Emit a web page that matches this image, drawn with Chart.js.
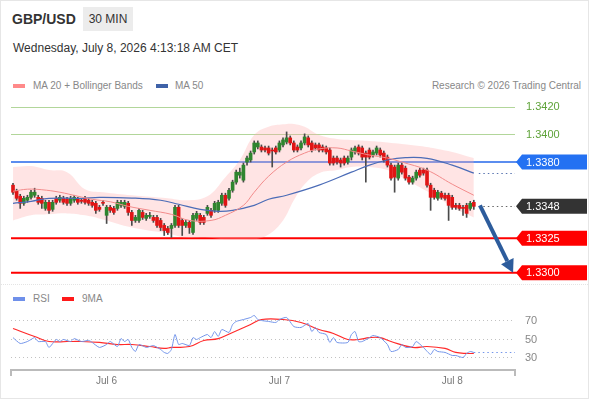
<!DOCTYPE html>
<html>
<head>
<meta charset="utf-8">
<title>GBP/USD 30 MIN</title>
<script src="https://cdn.jsdelivr.net/npm/chart.js@4.4.1/dist/chart.umd.min.js"></script>
<style>
  body { margin: 0; background: #fff; font-family: "Liberation Sans", Arial, sans-serif; }
  #wrap { position: relative; width: 590px; height: 400px; overflow: hidden; background: #fff; }
  #frame { position: absolute; left: 0; top: 0; width: 589px; height: 399px; box-sizing: border-box; border: 1px solid #e6e6e6; pointer-events: none; }
  #sep { position: absolute; left: 1px; top: 284px; width: 587px; height: 0; border-top: 1px dotted #e4e4e4; }
  .t { position: absolute; white-space: nowrap; }
  #title { left: 12px; top: 10px; font-size: 14px; line-height: 18px; font-weight: bold; color: #333; }
  #tf { left: 83px; top: 7px; width: 50px; height: 24px; line-height: 24px; text-align: center; background: #ececec; font-size: 12px; color: #333; }
  #date { left: 13px; top: 40px; font-size: 12px; line-height: 16px; color: #333; }
  .lg { font-size: 10px; line-height: 14px; color: #888; }
  .sw { position: absolute; width: 12px; height: 4px; }
  canvas { position: absolute; left: 0; }
</style>
</head>
<body>
<div id="wrap">
  <div class="t" id="title">GBP/USD</div>
  <div class="t" id="tf">30 MIN</div>
  <div class="t" id="date">Wednesday, July 8, 2026 4:13:18 AM CET</div>

  <div class="sw" style="left:13px; top:84px; background:#ff8a8a;"></div>
  <div class="t lg" style="left:33px; top:79px;">MA 20 + Bollinger Bands</div>
  <div class="sw" style="left:156px; top:84px; background:#3f62a8;"></div>
  <div class="t lg" style="left:175px; top:79px;">MA 50</div>
  <div class="t lg" style="right:9px; top:79px;">Research © 2026 Trading Central</div>

  <div id="sep"></div>
  <div class="sw" style="left:13px; top:297px; background:#6f90ea;"></div>
  <div class="t lg" style="left:33px; top:292px;">RSI</div>
  <div class="sw" style="left:62px; top:297px; background:#ff1a1a;"></div>
  <div class="t lg" style="left:82px; top:292px;">9MA</div>

  <canvas id="main" width="590" height="195" style="top:95px;"></canvas>
  <canvas id="rsi" width="590" height="93" style="top:305px;"></canvas>
  <div id="frame"></div>
</div>

<script>
// 30-minute candles, oldest first
const opens = [
  1.33633, 1.33589, 1.33553, 1.33502, 1.33524, 1.33545, 1.33560, 1.33545, 1.33538, 1.33465,
  1.33509, 1.33458, 1.33538, 1.33524, 1.33538, 1.33531, 1.33502, 1.33524, 1.33531, 1.33524,
  1.33538, 1.33524, 1.33509, 1.33502, 1.33473, 1.33509, 1.33415, 1.33473, 1.33465, 1.33465,
  1.33487, 1.33480, 1.33502, 1.33436, 1.33378, 1.33378, 1.33436, 1.33393, 1.33407, 1.33400,
  1.33400, 1.33378, 1.33342, 1.33320, 1.33320, 1.33342, 1.33473, 1.33378, 1.33342, 1.33364,
  1.33291, 1.33393, 1.33415, 1.33400, 1.33429, 1.33451, 1.33451, 1.33451, 1.33502, 1.33560,
  1.33538, 1.33596, 1.33655, 1.33705, 1.33669, 1.33800, 1.33815, 1.33873, 1.33909, 1.33909,
  1.33902, 1.33902, 1.33887, 1.33902, 1.33887, 1.33924, 1.33945, 1.33975, 1.33938, 1.33909,
  1.33902, 1.33938, 1.33975, 1.33938, 1.33924, 1.33924, 1.33909, 1.33902, 1.33887, 1.33829,
  1.33829, 1.33815, 1.33829, 1.33800, 1.33836, 1.33873, 1.33909, 1.33902, 1.33865, 1.33887,
  1.33851, 1.33865, 1.33887, 1.33865, 1.33836, 1.33778, 1.33764, 1.33684, 1.33778, 1.33756,
  1.33691, 1.33655, 1.33684, 1.33742, 1.33742, 1.33742, 1.33633, 1.33596, 1.33538, 1.33575,
  1.33560, 1.33560, 1.33545, 1.33487, 1.33487, 1.33473, 1.33487, 1.33465, 1.33509
];
const highs = [
  1.33647, 1.33604, 1.33567, 1.33553, 1.33560, 1.33596, 1.33611, 1.33560, 1.33553, 1.33524,
  1.33524, 1.33524, 1.33553, 1.33560, 1.33553, 1.33545, 1.33553, 1.33560, 1.33545, 1.33538,
  1.33553, 1.33538, 1.33524, 1.33516, 1.33487, 1.33524, 1.33487, 1.33487, 1.33480, 1.33524,
  1.33524, 1.33524, 1.33516, 1.33451, 1.33415, 1.33465, 1.33451, 1.33429, 1.33436, 1.33415,
  1.33415, 1.33393, 1.33356, 1.33335, 1.33356, 1.33487, 1.33487, 1.33393, 1.33378, 1.33378,
  1.33429, 1.33444, 1.33429, 1.33415, 1.33487, 1.33465, 1.33516, 1.33524, 1.33575, 1.33575,
  1.33611, 1.33669, 1.33742, 1.33756, 1.33793, 1.33844, 1.33880, 1.33953, 1.33953, 1.33924,
  1.33916, 1.33916, 1.33902, 1.33916, 1.33953, 1.33975, 1.34018, 1.33989, 1.33953, 1.33924,
  1.33953, 1.34004, 1.33989, 1.33953, 1.33938, 1.33938, 1.33924, 1.33916, 1.33902, 1.33844,
  1.33844, 1.33829, 1.33844, 1.33844, 1.33902, 1.33916, 1.33924, 1.33916, 1.33880, 1.33902,
  1.33887, 1.33916, 1.33902, 1.33880, 1.33851, 1.33793, 1.33778, 1.33793, 1.33793, 1.33771,
  1.33705, 1.33698, 1.33742, 1.33756, 1.33756, 1.33756, 1.33647, 1.33611, 1.33596, 1.33589,
  1.33575, 1.33575, 1.33560, 1.33502, 1.33502, 1.33487, 1.33502, 1.33516, 1.33524
];
const lows = [
  1.33567, 1.33524, 1.33465, 1.33487, 1.33509, 1.33531, 1.33545, 1.33495, 1.33465, 1.33451,
  1.33429, 1.33444, 1.33495, 1.33509, 1.33495, 1.33487, 1.33487, 1.33509, 1.33495, 1.33502,
  1.33495, 1.33487, 1.33473, 1.33429, 1.33444, 1.33487, 1.33356, 1.33436, 1.33422, 1.33451,
  1.33473, 1.33465, 1.33415, 1.33342, 1.33364, 1.33364, 1.33385, 1.33378, 1.33393, 1.33364,
  1.33327, 1.33305, 1.33269, 1.33276, 1.33255, 1.33327, 1.33327, 1.33269, 1.33327, 1.33284,
  1.33276, 1.33378, 1.33349, 1.33349, 1.33415, 1.33400, 1.33436, 1.33436, 1.33487, 1.33473,
  1.33524, 1.33582, 1.33640, 1.33684, 1.33655, 1.33778, 1.33800, 1.33858, 1.33895, 1.33873,
  1.33873, 1.33851, 1.33764, 1.33858, 1.33873, 1.33909, 1.33931, 1.33924, 1.33873, 1.33873,
  1.33887, 1.33924, 1.33909, 1.33873, 1.33887, 1.33873, 1.33873, 1.33858, 1.33778, 1.33778,
  1.33785, 1.33764, 1.33778, 1.33785, 1.33815, 1.33858, 1.33851, 1.33815, 1.33655, 1.33822,
  1.33836, 1.33851, 1.33836, 1.33800, 1.33764, 1.33669, 1.33582, 1.33669, 1.33713, 1.33669,
  1.33640, 1.33640, 1.33669, 1.33691, 1.33705, 1.33618, 1.33451, 1.33531, 1.33524, 1.33531,
  1.33524, 1.33378, 1.33458, 1.33458, 1.33451, 1.33415, 1.33400, 1.33451, 1.33458
];
const closes = [
  1.33582, 1.33538, 1.33502, 1.33538, 1.33545, 1.33582, 1.33582, 1.33509, 1.33502, 1.33509,
  1.33451, 1.33509, 1.33509, 1.33545, 1.33509, 1.33502, 1.33538, 1.33545, 1.33509, 1.33516,
  1.33509, 1.33502, 1.33487, 1.33451, 1.33458, 1.33502, 1.33473, 1.33451, 1.33436, 1.33509,
  1.33509, 1.33509, 1.33436, 1.33378, 1.33400, 1.33451, 1.33400, 1.33415, 1.33415, 1.33378,
  1.33342, 1.33327, 1.33305, 1.33291, 1.33342, 1.33473, 1.33342, 1.33342, 1.33364, 1.33327,
  1.33415, 1.33429, 1.33364, 1.33364, 1.33473, 1.33415, 1.33502, 1.33509, 1.33560, 1.33487,
  1.33596, 1.33655, 1.33727, 1.33727, 1.33778, 1.33829, 1.33865, 1.33938, 1.33938, 1.33887,
  1.33887, 1.33865, 1.33880, 1.33873, 1.33938, 1.33960, 1.33975, 1.33938, 1.33887, 1.33887,
  1.33938, 1.33982, 1.33924, 1.33887, 1.33902, 1.33887, 1.33887, 1.33873, 1.33793, 1.33793,
  1.33800, 1.33793, 1.33793, 1.33829, 1.33887, 1.33902, 1.33865, 1.33836, 1.33836, 1.33836,
  1.33873, 1.33902, 1.33851, 1.33815, 1.33778, 1.33684, 1.33691, 1.33778, 1.33727, 1.33684,
  1.33655, 1.33684, 1.33727, 1.33705, 1.33720, 1.33633, 1.33545, 1.33545, 1.33582, 1.33545,
  1.33538, 1.33487, 1.33473, 1.33473, 1.33465, 1.33465, 1.33429, 1.33502, 1.33480
];

// moving averages and bands, read at candle positions
const ma20Idx = [0, 4, 8, 13, 18, 22, 27, 32, 38, 44, 49, 55, 59, 64, 67, 71, 76, 81, 85, 90, 94, 99, 104, 108, 115, 122, 128];
const ma20 = [1.33589, 1.33604, 1.33600, 1.33582, 1.33553, 1.33531, 1.33513, 1.33480, 1.33451, 1.33422, 1.33378, 1.33378, 1.33415,
              1.33487, 1.33582, 1.33698, 1.33800, 1.33865, 1.33895, 1.33902, 1.33880, 1.33851, 1.33829, 1.33800, 1.33742, 1.33640, 1.33560];
const ma50Idx = [0, 5, 10, 19, 24, 33, 41, 46, 52, 57, 61, 67, 71, 76, 85, 94, 99, 104, 109, 115, 122, 128];
const ma50 = [1.33502, 1.33516, 1.33538, 1.33538, 1.33545, 1.33540, 1.33524, 1.33495, 1.33458, 1.33444, 1.33451,
              1.33487, 1.33531, 1.33560, 1.33633, 1.33727, 1.33778, 1.33815, 1.33832, 1.33827, 1.33778, 1.33720];
const bandIdx = [0, 5, 10, 15, 20, 25, 33, 43, 48, 54, 59, 63, 67, 71, 75, 78, 81, 85, 90, 94, 99, 104, 108, 113, 118, 122, 128];
const bandUpper = [1.33764, 1.33771, 1.33742, 1.33727, 1.33604, 1.33582, 1.33560, 1.33538, 1.33524, 1.33553, 1.33691, 1.33815, 1.33996,
                   1.34055, 1.34073, 1.34076, 1.34055, 1.33996, 1.33967, 1.33960, 1.33953, 1.33942, 1.33931, 1.33916, 1.33895, 1.33873, 1.33829];
const bandLower = [1.33378, 1.33415, 1.33422, 1.33429, 1.33415, 1.33385, 1.33327, 1.33284, 1.33255, 1.33255, 1.33240, 1.33240, 1.33240,
                   1.33276, 1.33378, 1.33524, 1.33640, 1.33720, 1.33742, 1.33764, 1.33764, 1.33742, 1.33691, 1.33618, 1.33545, 1.33473, 1.33400];

// RSI panel
const rsiIdx = [0, 2, 4, 5, 6, 7, 9, 10, 12, 13, 14, 16, 17, 19, 21, 22, 24, 26, 27, 29, 30, 31, 32, 33, 34, 35, 37, 38, 39, 41,
                42, 43, 44, 45, 46, 47, 49, 50, 51, 52, 54, 55, 56, 57, 58, 60, 61, 62, 64, 66, 67, 68, 69, 71, 73, 74, 76, 78, 80, 82,
                83, 84, 85, 87, 88, 89, 90, 93, 94, 95, 96, 97, 99, 100, 102, 104, 105, 107, 108, 109, 111, 112, 114, 116, 117, 118, 120, 122, 123, 125,
                126, 127, 128];
const rsi = [52, 45.7, 47.8, 50, 52, 47.8, 47.8, 41.4, 50, 47.8, 50, 47.8, 51, 47.8, 49, 46.8, 41.4, 44.6, 47.8, 42.4,
             51, 47.8, 50, 41.4, 37, 44.6, 41.4, 42.4, 43.5, 39.2, 36, 34.9, 39.2, 55.4, 44.6, 45.7, 43.5, 52, 50, 52,
             55.4, 52, 58.6, 53.2, 60.8, 57.6, 66.2, 69.5, 71.6, 73.8, 76, 71.6, 70.5, 69.5, 68.4, 71.6, 73.8, 64, 63, 67.3,
             58.6, 63, 57.6, 55.4, 46.8, 52, 46.8, 46.8, 55.4, 58.6, 47.8, 47.8, 52, 54.3, 52, 44.6, 37, 39.2, 44.6, 41.4,
             42.4, 47.8, 41.4, 33.8, 39.2, 37, 36, 32.7, 32.7, 30.5, 34.9, 37, 36];
const rsiMaIdx = [0, 6, 10, 15, 19, 24, 29, 33, 38, 42, 44, 49, 53, 57, 61, 66, 69, 75, 80, 85, 89, 93, 96, 99, 102, 105, 111, 115, 120, 123, 126, 128];
const rsiMa = [61.9, 53.2, 47.8, 47.8, 47.8, 46.8, 44.6, 44.6, 42.4, 40.3, 41.4, 42.4, 48.9, 51, 57.6, 66.2, 71.6, 71.6, 68.4, 60.8,
               56.5, 50, 50, 52, 52, 47.8, 41.4, 42.4, 40.3, 36, 34.9, 34.9];
const rsiTicks = [30, 50, 70];

// x axis ticks (candle index of each midnight)
const dayTicks = [26, 74, 122];
const dayLabels = ['Jul 6', 'Jul 7', 'Jul 8'];

// Trading Central levels
const resistance = [1.3420, 1.3400];
const pivot = [1.3380];
const lastPrice = 1.3348;
const support = [1.3325, 1.3300];
const arrowFrom = [129.7, 1.33487];
const arrowTo = [138.9, 1.3300];

const xMin = -0.56;
const xMax = 139.44;
const FONT = '"Liberation Sans", Arial, sans-serif';
Chart.defaults.font.family = FONT;

const idx = closes.map((c, i) => i);
const pts = (xs, ys) => xs.map((x, i) => ({ x: x, y: ys[i] }));

function hline(ctx, x1, x2, y, color, w, dash) {
  ctx.beginPath();
  ctx.setLineDash(dash || []);
  ctx.strokeStyle = color;
  ctx.lineWidth = w;
  ctx.moveTo(x1, y);
  ctx.lineTo(x2, y);
  ctx.stroke();
  ctx.setLineDash([]);
}

function tag(ctx, xl, xr, y, fill, text) {
  ctx.beginPath();
  ctx.moveTo(xl, y);
  ctx.lineTo(xl + 6, y - 7.5);
  ctx.lineTo(xr, y - 7.5);
  ctx.lineTo(xr, y + 7.5);
  ctx.lineTo(xl + 6, y + 7.5);
  ctx.closePath();
  ctx.fillStyle = fill;
  ctx.fill();
  ctx.fillStyle = '#fff';
  ctx.fillText(text, 526, y + 0.5);
}

const levelsPlugin = {
  id: 'levels',
  beforeDatasetsDraw(chart) {
    const { ctx, chartArea: a, scales: { y } } = chart;
    ctx.save();
    resistance.forEach(v => hline(ctx, a.left, a.right, Math.round(y.getPixelForValue(v)) + 0.5, '#b2d69a', 1));
    pivot.forEach(v => hline(ctx, a.left, a.right + 3, y.getPixelForValue(v), '#5b8def', 2));
    support.forEach(v => hline(ctx, a.left, a.right + 3, y.getPixelForValue(v), '#ff0000', 2));
    ctx.restore();
  },
  afterDatasetsDraw(chart) {
    const { ctx, chartArea: a, scales: { x, y } } = chart;
    ctx.save();
    const xEnd = x.getPixelForValue(idx[idx.length - 1]) + 5;
    hline(ctx, xEnd, a.right, Math.round(y.getPixelForValue(lastPrice)) + 0.5, '#666', 1, [1.5, 3]);
    hline(ctx, xEnd, a.right, Math.round(y.getPixelForValue(ma50[ma50.length - 1])) + 0.5, '#5a75b0', 1, [1.5, 3]);

    // forecast arrow
    const x1 = x.getPixelForValue(arrowFrom[0]), y1 = y.getPixelForValue(arrowFrom[1]);
    const x2 = x.getPixelForValue(arrowTo[0]), y2 = y.getPixelForValue(arrowTo[1]);
    const ang = Math.atan2(y2 - y1, x2 - x1);
    const head = 13, half = 7;
    const bx = x2 - head * Math.cos(ang), by = y2 - head * Math.sin(ang);
    ctx.strokeStyle = '#2d5c9c';
    ctx.fillStyle = '#2d5c9c';
    ctx.lineWidth = 4;
    ctx.beginPath();
    ctx.moveTo(x1, y1);
    ctx.lineTo(bx, by);
    ctx.stroke();
    ctx.beginPath();
    ctx.moveTo(x2, y2);
    ctx.lineTo(bx + half * Math.sin(ang), by - half * Math.cos(ang));
    ctx.lineTo(bx - half * Math.sin(ang), by + half * Math.cos(ang));
    ctx.closePath();
    ctx.fill();
    ctx.restore();
  },
  afterDraw(chart) {
    const { ctx, chartArea: a, scales: { y } } = chart;
    ctx.save();
    ctx.font = '11px ' + FONT;
    ctx.textBaseline = 'middle';
    ctx.textAlign = 'left';
    const xl = a.right + 1, xr = 587;
    resistance.forEach(v => {
      ctx.fillStyle = '#5fa33a';
      ctx.fillText(v.toFixed(4), 526, y.getPixelForValue(v) + 0.5);
    });
    pivot.forEach(v => tag(ctx, xl, xr, y.getPixelForValue(v), '#2471f2', v.toFixed(4)));
    tag(ctx, xl, xr, y.getPixelForValue(lastPrice), '#333333', lastPrice.toFixed(4));
    support.forEach(v => tag(ctx, xl, xr, y.getPixelForValue(v), '#ff0000', v.toFixed(4)));
    ctx.restore();
  }
};

new Chart(document.getElementById('main'), {
  type: 'bar',
  data: {
    datasets: [
      { type: 'line', data: pts(bandIdx, bandUpper), fill: '+1', backgroundColor: 'rgba(255, 170, 170, 0.32)',
        borderColor: 'rgba(0,0,0,0)', borderWidth: 0, pointRadius: 0, tension: 0.4, order: 10 },
      { type: 'line', data: pts(bandIdx, bandLower), fill: false,
        borderColor: 'rgba(0,0,0,0)', borderWidth: 0, pointRadius: 0, tension: 0.4, order: 10 },
      { type: 'bar', data: idx.map(i => ({ x: i, y: [lows[i], highs[i]] })), backgroundColor: '#4a4a4a',
        barThickness: 1, grouped: false, order: 3 },
      { type: 'bar', data: idx.map(i => ({ x: i, y: [opens[i], closes[i]] })),
        backgroundColor: idx.map(i => closes[i] >= opens[i] ? '#2f852f' : '#e01515'),
        barThickness: 3, minBarLength: 1, grouped: false, order: 2 },
      { type: 'line', data: pts(ma20Idx, ma20), borderColor: '#f28b8b', borderWidth: 1, pointRadius: 0, tension: 0.4, fill: false, order: 1 },
      { type: 'line', data: pts(ma50Idx, ma50), borderColor: '#4b6cb7', borderWidth: 1.2, pointRadius: 0, tension: 0.4, fill: false, order: 1 }
    ]
  },
  options: {
    responsive: false,
    animation: false,
    events: [],
    layout: { padding: { left: 11, right: 75, top: 0, bottom: 0 } },
    plugins: { legend: { display: false }, tooltip: { enabled: false } },
    scales: {
      x: { type: 'linear', min: xMin, max: xMax, offset: false, display: false },
      y: { type: 'linear', min: 1.32875, max: 1.34285, display: false }
    }
  },
  plugins: [levelsPlugin]
});

const rsiPlugin = {
  id: 'rsiExtras',
  afterDatasetsDraw(chart) {
    const { ctx, chartArea: a, scales: { x, y } } = chart;
    ctx.save();
    const last = rsi[rsi.length - 1];
    hline(ctx, x.getPixelForValue(rsiIdx[rsiIdx.length - 1]), a.right, Math.round(y.getPixelForValue(last)) + 0.5, '#7395ea', 1, [1.5, 3]);
    ctx.strokeStyle = '#bbb';
    ctx.lineWidth = 2;
    [a.left, a.right].forEach(px => {
      ctx.beginPath();
      ctx.moveTo(px, a.bottom);
      ctx.lineTo(px, a.bottom + 6);
      ctx.stroke();
    });
    ctx.restore();
  }
};

new Chart(document.getElementById('rsi'), {
  type: 'line',
  data: {
    datasets: [
      { data: pts(rsiIdx, rsi), borderColor: '#7395ea', borderWidth: 1, pointRadius: 0, tension: 0.2 },
      { data: pts(rsiMaIdx, rsiMa), borderColor: '#ff2a2a', borderWidth: 1.2, pointRadius: 0, tension: 0.4 }
    ]
  },
  options: {
    responsive: false,
    animation: false,
    events: [],
    layout: { padding: { left: 11, right: 0, top: 0, bottom: 0 } },
    plugins: { legend: { display: false }, tooltip: { enabled: false } },
    scales: {
      x: {
        type: 'linear', min: xMin, max: xMax,
        afterBuildTicks: s => { s.ticks = dayTicks.map(v => ({ value: v })); },
        afterFit: s => { s.height = 28; s.paddingLeft = 0; s.paddingRight = 0; },
        grid: { display: false, drawTicks: false },
        border: { display: true, color: '#bbb', width: 2 },
        ticks: { padding: 5, color: '#777', font: { size: 10 }, maxRotation: 0, autoSkip: false,
                 callback: v => dayLabels[dayTicks.indexOf(v)] }
      },
      y: {
        position: 'right', min: 17, max: 87.3,
        afterBuildTicks: s => { s.ticks = rsiTicks.map(v => ({ value: v })); },
        afterFit: s => { s.width = 75; s.paddingTop = 0; s.paddingBottom = 0; },
        grid: { color: '#c2c2c2', drawTicks: false },
        border: { display: false, dash: [1, 3] },
        ticks: { padding: 10, color: '#888', font: { size: 11 } }
      }
    }
  },
  plugins: [rsiPlugin]
});
</script>
</body>
</html>
